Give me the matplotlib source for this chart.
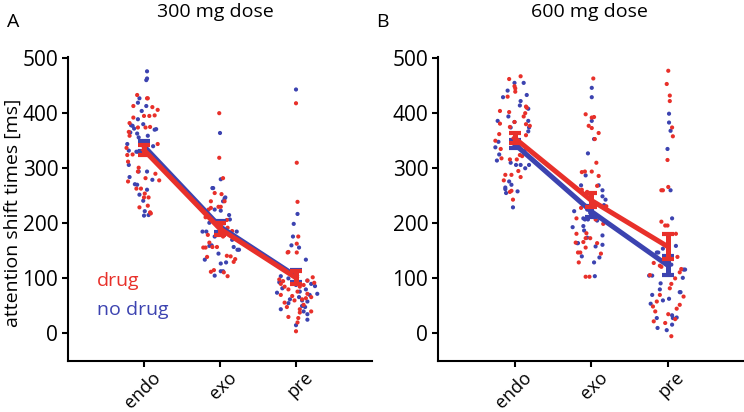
import numpy as np
import matplotlib
matplotlib.use("Agg")
import matplotlib.pyplot as plt
from matplotlib.transforms import ScaledTranslation

plt.rcParams['font.family'] = ['Open Sans', 'DejaVu Sans']

RED = '#e8302a'
BLUE = '#3c43b0'

conditions = ['endo', 'exo', 'pre']
doses = ['300 mg dose', '600 mg dose']
panel_letters = ['A', 'B']

# group means and SEM: [endo, exo, pre]
mean_drug = [[333, 190, 101], [355, 242, 158]]
sem_drug = [[9, 11, 12], [9, 13, 22]]
mean_nodrug = [[340, 194, 104], [344, 222, 124]]
sem_nodrug = [[9, 10, 11], [8, 10, 17]]

# individual subjects: (value in ms, horizontal jitter)
a_endo_drug = [(433, -0.09), (427, 0.05), (413, -0.14), (411, 0.11), (406, 0.18), (395, 0.0), (395, 0.07),
               (396, 0.14), (392, -0.14), (382, -0.19), (374, 0.02), (375, 0.08), (374, -0.08), (366, -0.2),
               (359, -0.19), (344, 0.18), (337, -0.23), (324, -0.22), (325, -0.15), (312, -0.21), (301, -0.07),
               (294, -0.08), (290, 0.15), (282, 0.02), (278, 0.2), (276, -0.21), (263, -0.04), (263, -0.1),
               (254, 0.01), (247, 0.06), (247, 0.0), (232, 0.05), (229, -0.06), (220, 0.08), (218, 0.09),
               (427, 0.04)]
a_endo_nodrug = [(476, 0.04), (463, 0.04), (460, 0.03), (427, -0.06), (419, -0.08), (413, 0.03), (404, -0.03),
                 (389, -0.08), (380, -0.01), (377, -0.15), (378, -0.17), (372, -0.13), (370, 0.14), (371, 0.16),
                 (365, -0.18), (363, -0.09), (359, 0.05), (356, -0.07), (344, -0.22), (332, -0.2), (330, -0.1),
                 (330, -0.08), (306, -0.2), (294, -0.07), (294, 0.04), (284, -0.19), (279, 0.11), (271, -0.12),
                 (270, -0.09), (261, 0.04), (252, -0.06), (241, -0.01), (222, 0.01), (214, 0.0), (215, 0.06),
                 (340, 0.12)]
a_exo_drug = [(400, -0.01), (319, -0.01), (282, 0.04), (255, -0.07), (253, 0.02), (240, -0.12), (230, -0.02),
              (230, 0.01), (225, -0.15), (228, -0.12), (240, 0.06), (211, -0.19), (210, -0.12), (206, 0.09),
              (196, -0.04), (196, 0.01), (192, 0.1), (179, -0.16), (176, 0.04), (156, -0.22), (156, -0.19),
              (157, -0.1), (157, -0.04), (139, -0.17), (141, 0.09), (140, 0.14), (135, 0.2), (130, 0.18),
              (115, -0.08), (112, -0.12), (111, 0.05), (104, 0.1), (186, 0.16), (165, -0.14)]
a_exo_nodrug = [(364, 0.0), (280, 0.01), (264, -0.09), (264, -0.1), (247, 0.07), (245, 0.06), (240, 0.04),
                (225, -0.07), (223, 0.01), (215, 0.12), (207, 0.13), (201, -0.14), (185, -0.18), (185, -0.23),
                (185, 0.22), (176, -0.07), (159, -0.14), (160, -0.11), (157, 0.18), (152, 0.23), (152, 0.25),
                (134, -0.2), (127, 0.01), (129, 0.08), (105, -0.07), (113, 0.01), (113, 0.04), (200, 0.05),
                (170, 0.16), (145, -0.02)]
a_pre_drug = [(418, 0.0), (310, 0.01), (239, 0.02), (176, 0.03), (163, 0.01), (148, -0.1), (147, -0.11),
              (147, 0.01), (102, 0.22), (98, -0.22), (96, 0.15), (95, -0.17), (92, 0.24), (90, -0.2), (88, 0.1),
              (85, 0.05), (80, -0.1), (76, 0.02), (72, 0.15), (68, -0.05), (66, 0.2), (64, 0.13), (60, -0.02),
              (56, -0.15), (52, 0.1), (48, -0.12), (44, 0.05), (40, 0.2), (38, 0.05), (30, -0.1), (28, 0.03),
              (20, 0.02), (4, 0.0), (62, 0.08), (85, -0.15), (70, -0.2)]
a_pre_nodrug = [(443, 0.0), (217, 0.02), (199, -0.03), (176, -0.04), (160, -0.06), (156, 0.04), (134, 0.13),
                (104, -0.2), (100, -0.1), (96, 0.15), (93, -0.22), (90, 0.2), (86, 0.25), (82, -0.18), (80, 0.13),
                (76, 0.05), (74, -0.25), (72, 0.28), (70, 0.18), (66, 0.04), (62, -0.08), (58, 0.15), (55, -0.1),
                (50, 0.08), (48, 0.12), (44, -0.2), (40, 0.1), (35, 0.15), (25, 0.15), (15, 0.0), (88, 0.0),
                (60, 0.08)]

b_endo_drug = [(467, 0.08), (462, -0.07), (449, 0.0), (445, 0.01), (439, 0.01), (430, -0.09), (412, 0.15),
               (410, 0.16), (404, -0.19), (402, -0.07), (400, 0.14), (394, 0.12), (381, -0.19), (384, 0.0),
               (380, 0.15), (375, -0.06), (377, 0.2), (362, -0.2), (360, 0.15), (350, -0.25), (335, -0.18),
               (318, -0.17), (316, -0.06), (324, 0.07), (316, 0.03), (295, 0.05), (288, -0.12), (288, -0.04),
               (284, 0.08), (278, -0.14), (257, -0.06), (259, -0.04), (243, -0.02), (322, 0.1), (342, 0.02)]
b_endo_nodrug = [(455, 0.0), (455, 0.12), (441, -0.09), (429, -0.15), (433, 0.16), (422, 0.08), (414, 0.07),
                 (408, 0.18), (394, -0.08), (386, -0.22), (384, 0.0), (386, 0.18), (374, -0.05), (374, 0.19),
                 (367, 0.18), (348, -0.21), (338, -0.25), (325, -0.2), (314, -0.23), (310, -0.05), (331, 0.13),
                 (306, 0.02), (306, 0.08), (306, 0.19), (300, 0.14), (276, -0.07), (270, -0.04), (265, -0.12),
                 (262, -0.12), (255, -0.11), (258, 0.04), (229, -0.02), (340, 0.05)]
b_exo_drug = [(463, 0.03), (398, -0.07), (392, 0.01), (393, 0.04), (377, -0.03), (373, 0.01), (364, 0.1),
              (353, 0.05), (310, 0.07), (293, -0.12), (294, -0.08), (294, 0.01), (286, 0.1), (257, -0.05),
              (261, -0.12), (231, 0.2), (209, -0.19), (207, 0.06), (199, 0.16), (181, -0.19), (182, -0.06),
              (173, -0.07), (173, -0.01), (165, -0.2), (166, -0.1), (164, 0.08), (156, -0.07), (147, -0.17),
              (147, -0.14), (145, 0.13), (129, -0.16), (103, -0.07), (103, -0.02), (228, -0.13), (215, 0.02),
              (268, 0.08)]
b_exo_nodrug = [(446, 0.01), (429, 0.01), (386, 0.01), (353, 0.04), (327, -0.04), (287, -0.07), (269, -0.13),
                (269, 0.1), (260, 0.15), (249, 0.15), (243, 0.19), (233, 0.17), (222, -0.22), (219, -0.01),
                (209, -0.1), (207, -0.08), (207, -0.04), (193, -0.24), (195, -0.1), (187, -0.09), (174, -0.05),
                (164, -0.18), (164, -0.17), (161, 0.15), (140, -0.12), (138, 0.11), (129, 0.04), (104, 0.05),
                (205, 0.08), (178, 0.15), (225, -0.05), (158, 0.06)]
b_pre_drug = [(477, 0.01), (453, -0.01), (432, 0.03), (422, 0.03), (374, 0.06), (358, 0.07), (315, 0.0),
              (260, -0.08), (260, -0.06), (266, 0.01), (203, -0.08), (196, -0.03), (196, 0.0), (181, 0.11),
              (139, 0.13), (128, -0.18), (123, -0.1), (121, -0.08), (117, 0.18), (111, 0.16), (106, -0.23),
              (82, 0.03), (67, 0.21), (58, -0.14), (52, 0.16), (49, -0.19), (40, -0.16), (35, 0.01), (26, 0.1),
              (22, -0.18), (19, -0.03), (-5, 0.05), (100, 0.1), (70, -0.1), (90, 0.05), (45, 0.12)]
b_pre_nodrug = [(399, 0.02), (383, 0.02), (368, 0.04), (335, 0.0), (260, 0.04), (209, 0.06), (159, 0.11),
                (154, -0.06), (147, -0.12), (147, -0.14), (116, 0.21), (116, 0.23), (105, -0.24), (105, -0.2),
                (101, 0.2), (91, -0.09), (80, -0.1), (75, 0.17), (75, 0.16), (70, -0.2), (63, 0.02), (54, -0.22),
                (60, -0.06), (33, 0.06), (29, 0.12), (28, 0.07), (28, -0.14), (10, -0.13), (6, -0.01), (16, 0.06),
                (125, 0.05), (135, -0.02)]

subjects = [
    [(a_endo_drug, a_endo_nodrug), (a_exo_drug, a_exo_nodrug), (a_pre_drug, a_pre_nodrug)],
    [(b_endo_drug, b_endo_nodrug), (b_exo_drug, b_exo_nodrug), (b_pre_drug, b_pre_nodrug)],
]

fig = plt.figure(figsize=(7.44, 4.12), dpi=100)
W, H = 744.0, 412.0
axes_px = [(68, 372), (438, 744)]
top_px, bot_px = 57, 361
title_x = [215, 589]
letter_x = [13, 382]

for p in range(2):
    l, r = axes_px[p]
    ax = fig.add_axes([l / W, 1 - bot_px / H, (r - l) / W, (bot_px - top_px) / H])
    xs = np.arange(1, 4)

    for i in range(3):
        drug, nodrug = subjects[p][i]
        for pts, col in ((nodrug, BLUE), (drug, RED)):
            v = np.array([q[0] for q in pts])
            j = np.array([q[1] for q in pts])
            ax.scatter(xs[i] + j, v, s=9, color=col, edgecolors='none', zorder=2)

    ax.errorbar(xs, mean_nodrug[p], yerr=sem_nodrug[p], color=BLUE, lw=3.6, elinewidth=3.6,
                capsize=4.5, capthick=3.0, zorder=3)
    ax.errorbar(xs, mean_drug[p], yerr=sem_drug[p], color=RED, lw=3.6, elinewidth=3.6,
                capsize=4.5, capthick=3.0, zorder=4)

    ax.set_xlim(0, 4)
    ax.set_ylim(-50, 502)
    ax.set_yticks([0, 100, 200, 300, 400, 500])
    ax.set_xticks(xs)
    ax.set_xticklabels(conditions, rotation=45, ha='right', va='center', rotation_mode='anchor')
    for s in ('top', 'right'):
        ax.spines[s].set_visible(False)
    for s in ('left', 'bottom'):
        ax.spines[s].set_linewidth(1.5)
    ax.tick_params(direction='out', length=4, width=1.5)
    ax.tick_params(axis='y', pad=3, labelsize=15)
    ax.tick_params(axis='x', pad=6, labelsize=13)
    shift = ScaledTranslation(14 / 100, 0, fig.dpi_scale_trans)
    for lab in ax.get_xticklabels():
        lab.set_transform(lab.get_transform() + shift)

    fig.text(title_x[p] / W, 1 - 12 / H, doses[p], fontsize=14, ha='center', va='center')
    fig.text(letter_x[p] / W, 1 - 22 / H, panel_letters[p], fontsize=14, ha='center', va='center')

    if p == 0:
        ax.set_ylabel('attention shift times [ms]', fontsize=14, va='center')
        ax.yaxis.set_label_coords(-55 / (r - l), (bot_px - 213) / (bot_px - top_px))
        ax.text(0.38, 96, 'drug', color=RED, fontsize=14, ha='left', va='center')
        ax.text(0.38, 43, 'no drug', color=BLUE, fontsize=14, ha='left', va='center')

fig.savefig('out.png', dpi=100)
